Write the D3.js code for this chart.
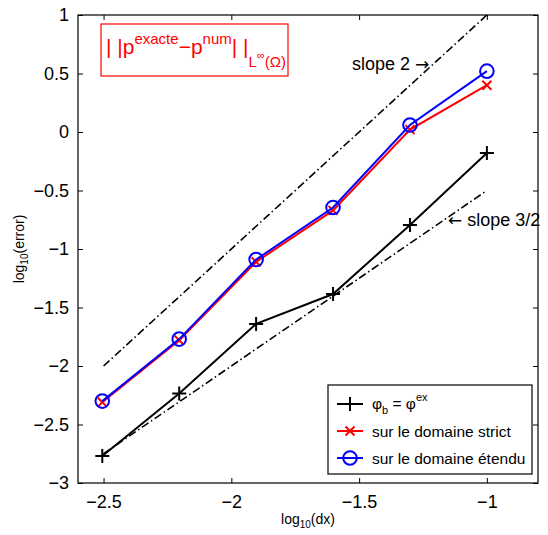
<!DOCTYPE html>
<html><head><meta charset="utf-8">
<script src="https://d3js.org/d3.v7.min.js"></script>
<style>body{margin:0;background:#fff;} svg{display:block;font-family:"Liberation Sans",Arial,sans-serif;}</style>
</head><body><svg id="c" width="548" height="535"></svg>
<script>
const xTicks = [-2.5, -2, -1.5, -1];
const yTicks = [1, 0.5, 0, -0.5, -1, -1.5, -2, -2.5, -3];
const logDx = [-2.505, -2.204, -1.903, -1.602, -1.301, -1.0];
const errExact = [-2.77, -2.235, -1.64, -1.385, -0.795, -0.18];
const errStrict = [-2.31, -1.78, -1.11, -0.67, 0.02, 0.40];
const errExtended = [-2.30, -1.77, -1.09, -0.645, 0.06, 0.52];
const slope2X = [-2.5, -1];
const slope2Y = [-2, 1];
const slope32X = [-2.5, -1];
const slope32Y = [-2.75, -0.5];
const legendLabels = ["sur le domaine strict", "sur le domaine étendu"];

const svg = d3.select("#c");
const x = d3.scaleLinear().domain([-2.6, -0.8]).range([78, 538]);
const y = d3.scaleLinear().domain([-3, 1]).range([483, 15]);
const L = 78, R = 538, T = 15, B = 483;

svg.append("rect").attr("x", L).attr("y", T).attr("width", R - L).attr("height", B - T)
  .attr("fill", "none").attr("stroke", "#000").attr("stroke-width", 1.2);

const fmt = d => (d < 0 ? "\u2212" : "") + Math.abs(d);
const gx = svg.append("g").attr("transform", `translate(0,${B})`)
  .call(d3.axisBottom(x).tickValues(xTicks).tickSize(-5).tickPadding(12).tickFormat(fmt));
const gxt = svg.append("g").attr("transform", `translate(0,${T})`)
  .call(d3.axisTop(x).tickValues(xTicks).tickSize(-5).tickFormat(""));
const gy = svg.append("g").attr("transform", `translate(${L},0)`)
  .call(d3.axisLeft(y).tickValues(yTicks).tickSize(-5).tickPadding(9).tickFormat(fmt));
const gyr = svg.append("g").attr("transform", `translate(${R},0)`)
  .call(d3.axisRight(y).tickValues(yTicks).tickSize(-5).tickFormat(""));
[gx, gxt, gy, gyr].forEach(g => {
  g.select(".domain").remove();
  g.selectAll("line").attr("stroke", "#000").attr("stroke-width", 1);
  g.selectAll("text").attr("font-size", 18).attr("fill", "#000")
    .attr("font-family", "Liberation Sans, Arial, sans-serif");
});

const line = d3.line().x(d => x(d[0])).y(d => y(d[1]));
[[slope2X, slope2Y], [slope32X, slope32Y]].forEach(([xs, ys]) => {
  svg.append("path").datum(xs.map((v, i) => [v, ys[i]])).attr("d", line)
    .attr("fill", "none").attr("stroke", "#000").attr("stroke-width", 1.6)
    .attr("stroke-dasharray", "8,3,1.5,3");
});

const series = [
  {vals: errExact, color: "#000", marker: "plus"},
  {vals: errStrict, color: "#ff0000", marker: "x"},
  {vals: errExtended, color: "#0000ff", marker: "o"}
];
function drawMarker(g, type, cx, cy, color) {
  if (type === "plus") {
    g.append("path").attr("d", `M${cx-7},${cy}H${cx+7}M${cx},${cy-7}V${cy+7}`)
      .attr("stroke", color).attr("stroke-width", 2).attr("fill", "none");
  } else if (type === "x") {
    g.append("path").attr("d", `M${cx-4.5},${cy-4.5}L${cx+4.5},${cy+4.5}M${cx-4.5},${cy+4.5}L${cx+4.5},${cy-4.5}`)
      .attr("stroke", color).attr("stroke-width", 2).attr("fill", "none");
  } else {
    g.append("circle").attr("cx", cx).attr("cy", cy).attr("r", 6.8)
      .attr("stroke", color).attr("stroke-width", 2).attr("fill", "none");
  }
}
series.forEach(s => {
  const pts = logDx.map((v, i) => [v, s.vals[i]]);
  svg.append("path").datum(pts).attr("d", line).attr("fill", "none")
    .attr("stroke", s.color).attr("stroke-width", 2);
  const g = svg.append("g");
  pts.forEach(p => drawMarker(g, s.marker, x(p[0]), y(p[1]), s.color));
});

// annotations
const a1 = svg.append("text").attr("x", 352).attr("y", 70).attr("font-size", 18);
a1.append("tspan").text("slope 2 ");
a1.append("tspan").attr("font-family", "DejaVu Sans").attr("font-size", 17).text("\u2192");
const a2 = svg.append("text").attr("x", 448).attr("y", 226).attr("font-size", 18);
a2.append("tspan").attr("font-family", "DejaVu Sans").attr("font-size", 17).text("\u2190");
a2.append("tspan").text(" slope 3/2");

// title box
svg.append("rect").attr("x", 101).attr("y", 24).attr("width", 187).attr("height", 52)
  .attr("fill", "#fff").attr("stroke", "#ff0000").attr("stroke-width", 1.2);
const tt = svg.append("text").attr("x", 106).attr("y", 54).attr("fill", "#ff0000").attr("font-size", 21);
tt.append("tspan").text("| |p");
tt.append("tspan").attr("font-size", 15).attr("dy", -10).text("exacte");
tt.append("tspan").attr("dy", 10).text("\u2212p");
tt.append("tspan").attr("font-size", 15).attr("dy", -10).text("num");
tt.append("tspan").attr("dy", 10).text("| |");
tt.append("tspan").attr("font-size", 15).attr("dy", 13).text("L");
tt.append("tspan").attr("font-size", 11).attr("dy", -8).text("\u221e");
tt.append("tspan").attr("font-size", 15).attr("dy", 8).text("(\u03a9)");

// axis labels
const xl = svg.append("text").attr("x", 308).attr("y", 524).attr("text-anchor", "middle").attr("font-size", 14);
xl.append("tspan").text("log");
xl.append("tspan").attr("font-size", 10).attr("dy", 4).text("10");
xl.append("tspan").attr("dy", -4).text("(dx)");
const yl = svg.append("text").attr("transform", "translate(24,249) rotate(-90)")
  .attr("text-anchor", "middle").attr("font-size", 14);
yl.append("tspan").text("log");
yl.append("tspan").attr("font-size", 10).attr("dy", 4).text("10");
yl.append("tspan").attr("dy", -4).text("(error)");

// legend
svg.append("rect").attr("x", 328).attr("y", 385).attr("width", 204).attr("height", 89)
  .attr("fill", "#fff").attr("stroke", "#000").attr("stroke-width", 1.2);
const rowsY = [404, 431, 458];
series.forEach((s, i) => {
  const g = svg.append("g");
  g.append("line").attr("x1", 337).attr("x2", 363).attr("y1", rowsY[i]).attr("y2", rowsY[i])
    .attr("stroke", s.color).attr("stroke-width", 2);
  drawMarker(g, s.marker, 350, rowsY[i], s.color);
});
const l0 = svg.append("text").attr("x", 372).attr("y", rowsY[0] + 5).attr("font-size", 15.5);
l0.append("tspan").text("\u03c6");
l0.append("tspan").attr("font-size", 11).attr("dy", 5).text("b");
l0.append("tspan").attr("dy", -5).text(" = \u03c6");
l0.append("tspan").attr("font-size", 11).attr("dy", -8).text("ex");
legendLabels.forEach((t, i) => {
  svg.append("text").attr("x", 372).attr("y", rowsY[i + 1] + 6).attr("font-size", 15.5).text(t);
});
</script></body></html>
